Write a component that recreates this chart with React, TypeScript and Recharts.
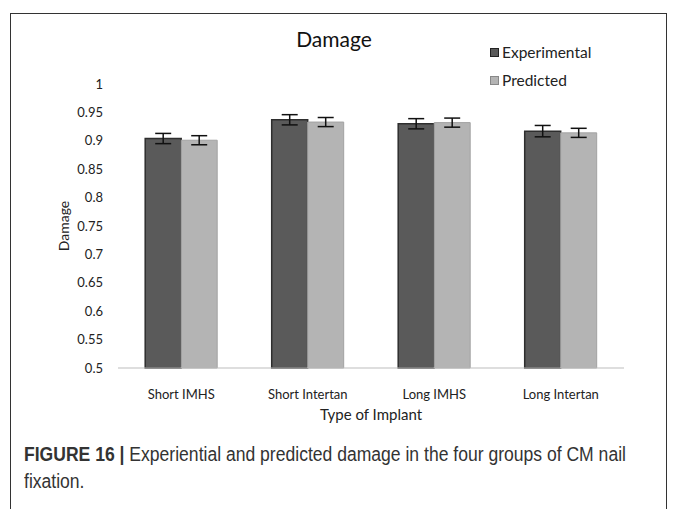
import { BarChart, Bar, XAxis, YAxis, ErrorBar, Legend, Label } from 'recharts';

const categories = ['Short IMHS', 'Short Intertan', 'Long IMHS', 'Long Intertan'];
const experimental = [0.904, 0.937, 0.93, 0.917];
const predicted = [0.901, 0.933, 0.932, 0.914];
const experimentalErr = [0.009, 0.009, 0.009, 0.01];
const predictedErr = [0.008, 0.008, 0.008, 0.008];
const yTicks = [0.5, 0.55, 0.6, 0.65, 0.7, 0.75, 0.8, 0.85, 0.9, 0.95, 1];

const data = categories.map((name, i) => ({
  name,
  experimental: experimental[i],
  predicted: predicted[i],
  expErr: experimentalErr[i],
  predErr: predictedErr[i],
}));

const chartFont = 'Lato, "Open Sans", sans-serif';

function LegendBox({ payload }: any) {
  return (
    <div style={{ fontFamily: chartFont, fontSize: 15.5, color: '#222' }}>
      {(payload || []).map((p: any) => (
        <div key={p.value} style={{ display: 'flex', alignItems: 'center', height: 28 }}>
          <span
            style={{
              display: 'inline-block',
              width: 7,
              height: 7,
              background: p.color,
              border: '1px solid ' + (p.value === 'Experimental' ? '#222' : '#888'),
              marginRight: 3,
            }}
          />
          {p.value}
        </div>
      ))}
    </div>
  );
}

export default function App() {
  return (
    <div
      style={{
        position: 'relative',
        marginLeft: 2,
        marginTop: 5,
        width: 655,
        height: 510,
        border: '1px solid #333',
        background: '#fff',
      }}
    >
      <div
        style={{
          position: 'absolute',
          left: 0,
          width: 646,
          top: 12,
          textAlign: 'center',
          fontFamily: chartFont,
          fontSize: 21,
          color: '#111',
        }}
      >
        Damage
      </div>
      <BarChart
        width={654}
        height={440}
        data={data}
        margin={{ top: 70, right: 41, left: 0, bottom: 26 }}
        barCategoryGap="21.5%"
        barGap={0}
      >
        <XAxis
          dataKey="name"
          height={60}
          stroke="#bdbdbd"
          tickLine={false}
          tickMargin={16}
          tick={{ fill: '#222', fontSize: 13, fontFamily: chartFont }}
        >
          <Label
            value="Type of Implant"
            position="insideBottom"
            offset={8}
            style={{ fill: '#222', fontSize: 15, fontFamily: chartFont }}
          />
        </XAxis>
        <YAxis
          width={107}
          domain={[0.5, 1]}
          ticks={yTicks}
          axisLine={false}
          tickLine={false}
          tickMargin={9}
          tick={{ fill: '#222', fontSize: 13, fontFamily: chartFont }}
        >
          <Label
            value="Damage"
            angle={-90}
            position="center"
            style={{ fill: '#222', fontSize: 14, fontFamily: chartFont, textAnchor: 'middle' }}
          />
        </YAxis>
        <Legend
          layout="vertical"
          verticalAlign="middle"
          align="center"
          content={<LegendBox />}
          wrapperStyle={{ top: 24, left: 479, width: 140 }}
        />
        <Bar
          dataKey="experimental"
          name="Experimental"
          fill="#5a5a5a"
          stroke="#2e2e2e"
          strokeWidth={1.5}
          isAnimationActive={false}
        >
          <ErrorBar dataKey="expErr" width={8} stroke="#111" strokeWidth={1.5} />
        </Bar>
        <Bar
          dataKey="predicted"
          name="Predicted"
          fill="#b4b4b4"
          stroke="#a2a2a2"
          strokeWidth={1}
          isAnimationActive={false}
        >
          <ErrorBar dataKey="predErr" width={8} stroke="#111" strokeWidth={1.5} />
        </Bar>
      </BarChart>
      <div
        style={{
          position: 'absolute',
          left: 13,
          top: 427,
          width: 700,
          transform: 'scaleX(0.9)',
          transformOrigin: 'left top',
          fontFamily: '"Liberation Sans", Arial, sans-serif',
          fontSize: 19.5,
          lineHeight: '27px',
          color: '#333',
        }}
      >
        <b style={{ color: '#333' }}>FIGURE 16 |</b> Experiential and predicted damage in the four groups of CM nail
        <br />
        fixation.
      </div>
    </div>
  );
}
